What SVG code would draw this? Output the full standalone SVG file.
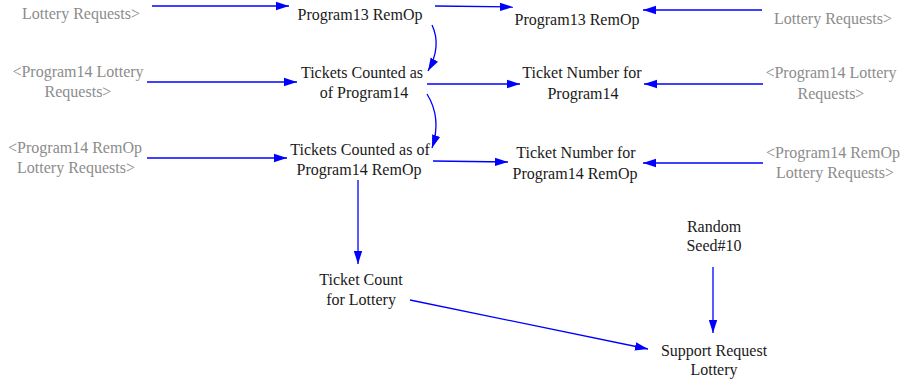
<svg xmlns="http://www.w3.org/2000/svg" width="904" height="379" viewBox="0 0 904 379">
<style>
text{font-family:"Liberation Serif","Times New Roman",serif;font-size:16px;text-anchor:middle;fill:#1a1a1a}
text.g{fill:#8c8c8c}
.c path,.c line{stroke:#0000ff;stroke-width:1.3;fill:none;marker-end:url(#ah)}
</style>
<defs>
<marker id="ah" markerUnits="userSpaceOnUse" markerWidth="14" markerHeight="10" viewBox="0 0 14 10" refX="13" refY="5" orient="auto">
<path d="M0,0.8 L13,5 L0,9.2 Z" fill="#0000ff"/>
</marker>
</defs>
<g class="c" id="connectors">
<line x1="152" y1="6" x2="289" y2="6"/>
<line x1="435" y1="6" x2="513" y2="7"/>
<line x1="762" y1="10" x2="643" y2="10"/>
<path d="M432,25 Q442,46 428,71"/>
<line x1="147" y1="82" x2="297" y2="82"/>
<line x1="427" y1="84" x2="520" y2="84"/>
<line x1="763" y1="84" x2="644" y2="84"/>
<path d="M427,94 Q442,118 432,148"/>
<line x1="147" y1="158" x2="287" y2="158"/>
<line x1="433" y1="161" x2="508" y2="162"/>
<line x1="763" y1="163" x2="643" y2="163"/>
<line x1="358" y1="180" x2="358" y2="264"/>
<line x1="410" y1="300" x2="648" y2="349"/>
<line x1="713" y1="267" x2="713" y2="333"/>
</g>
<g id="ghost_p13_rem_left"><text class="g" x="81" y="19">Lottery Requests&gt;</text></g>
<g id="tickets_counted_p13_remop"><text x="360" y="20">Program13 RemOp</text></g>
<g id="ticket_number_p13_remop"><text x="577" y="25">Program13 RemOp</text></g>
<g id="ghost_p13_rem_right"><text class="g" x="833" y="24">Lottery Requests&gt;</text></g>
<g id="ghost_p14_left"><text class="g" x="78" y="77">&lt;Program14 Lottery</text><text class="g" x="78" y="97">Requests&gt;</text></g>
<g id="tickets_counted_p14"><text x="362" y="78">Tickets Counted as</text><text x="364" y="98">of Program14</text></g>
<g id="ticket_number_p14"><text x="582" y="78">Ticket Number for</text><text x="583" y="99">Program14</text></g>
<g id="ghost_p14_right"><text class="g" x="831" y="78">&lt;Program14 Lottery</text><text class="g" x="831" y="99">Requests&gt;</text></g>
<g id="ghost_p14_rem_left"><text class="g" x="75" y="153">&lt;Program14 RemOp</text><text class="g" x="76" y="173">Lottery Requests&gt;</text></g>
<g id="tickets_counted_p14_remop"><text x="360" y="155">Tickets Counted as of</text><text x="359" y="175">Program14 RemOp</text></g>
<g id="ticket_number_p14_remop"><text x="576" y="158">Ticket Number for</text><text x="575" y="179">Program14 RemOp</text></g>
<g id="ghost_p14_rem_right"><text class="g" x="833" y="158">&lt;Program14 RemOp</text><text class="g" x="835" y="178">Lottery Requests&gt;</text></g>
<g id="random_seed"><text x="714" y="232">Random</text><text x="714" y="251">Seed#10</text></g>
<g id="ticket_count_lottery"><text x="361" y="285">Ticket Count</text><text x="361" y="305">for Lottery</text></g>
<g id="support_request_lottery"><text x="714" y="356">Support Request</text><text x="714" y="375">Lottery</text></g>
</svg>
